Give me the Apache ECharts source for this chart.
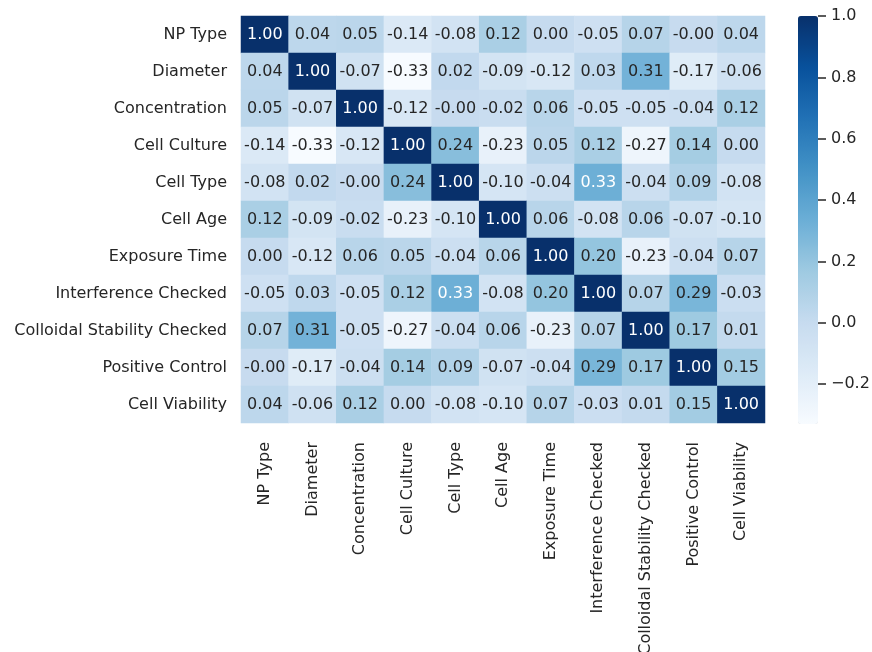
<!DOCTYPE html>
<html>
<head>
<meta charset="utf-8">
<script src="https://cdn.jsdelivr.net/npm/echarts@6/dist/echarts.min.js"></script>
<style>
html,body{margin:0;padding:0;background:#fff;}
#chart{width:872px;height:652px;}
</style>
</head>
<body>
<div id="chart"></div>
<script>
var categories = ['NP Type','Diameter','Concentration','Cell Culture','Cell Type','Cell Age','Exposure Time','Interference Checked','Colloidal Stability Checked','Positive Control','Cell Viability'];

var rowNPType        = [1.00, 0.04, 0.05, -0.14, -0.08, 0.12, 0.002, -0.05, 0.07, -0.002, 0.04];
var rowDiameter      = [0.04, 1.00, -0.07, -0.33, 0.02, -0.09, -0.12, 0.03, 0.31, -0.17, -0.06];
var rowConcentration = [0.05, -0.07, 1.00, -0.12, -0.002, -0.02, 0.06, -0.05, -0.05, -0.04, 0.12];
var rowCellCulture   = [-0.14, -0.33, -0.12, 1.00, 0.24, -0.23, 0.05, 0.12, -0.27, 0.14, 0.002];
var rowCellType      = [-0.08, 0.02, -0.002, 0.24, 1.00, -0.10, -0.04, 0.33, -0.04, 0.09, -0.08];
var rowCellAge       = [0.12, -0.09, -0.02, -0.23, -0.10, 1.00, 0.06, -0.08, 0.06, -0.07, -0.10];
var rowExposureTime  = [0.002, -0.12, 0.06, 0.05, -0.04, 0.06, 1.00, 0.20, -0.23, -0.04, 0.07];
var rowInterference  = [-0.05, 0.03, -0.05, 0.12, 0.33, -0.08, 0.20, 1.00, 0.07, 0.29, -0.03];
var rowColloidal     = [0.07, 0.31, -0.05, -0.27, -0.04, 0.06, -0.23, 0.07, 1.00, 0.17, 0.01];
var rowPositive      = [-0.002, -0.17, -0.04, 0.14, 0.09, -0.07, -0.04, 0.29, 0.17, 1.00, 0.15];
var rowViability     = [0.04, -0.06, 0.12, 0.002, -0.08, -0.10, 0.07, -0.03, 0.01, 0.15, 1.00];

var colorbarTicks = [-0.2, 0.0, 0.2, 0.4, 0.6, 0.8, 1.0];
var vMin = -0.33, vMax = 1.0;

var rows = [rowNPType,rowDiameter,rowConcentration,rowCellCulture,rowCellType,rowCellAge,rowExposureTime,rowInterference,rowColloidal,rowPositive,rowViability];

var blues = ['#f7fbff','#deebf7','#c6dbef','#9ecae1','#6baed6','#4292c6','#2171b5','#08519c','#08306b'];
var textColor = '#262626';
var font = 'DejaVu Sans';

var data = [];
rows.forEach(function(r, i){
  r.forEach(function(v, j){
    data.push({value:[j, i, v], label:{color: v > 0.32 ? '#ffffff' : textColor}});
  });
});

var chart = echarts.init(document.getElementById('chart'), null, {renderer:'canvas'});
chart.setOption({
  backgroundColor:'#ffffff',
  animation:false,
  textStyle:{fontFamily:font},
  grid:[
    {left:241, top:16, width:524, height:407, outerBoundsMode:'none', containLabel:false},
    {left:798, top:16, width:20, height:408, outerBoundsMode:'none', containLabel:false}
  ],
  xAxis:[
    {type:'category', data:categories, gridIndex:0, position:'bottom',
     axisLine:{show:false}, axisTick:{show:false}, splitLine:{show:false},
     axisLabel:{rotate:90, margin:19, fontSize:16, color:textColor, fontFamily:font, interval:0}},
    {type:'value', gridIndex:1, show:false, min:0, max:1}
  ],
  yAxis:[
    {type:'category', data:categories, gridIndex:0, inverse:true,
     axisLine:{show:false}, axisTick:{show:false}, splitLine:{show:false},
     axisLabel:{margin:14, fontSize:16, color:textColor, fontFamily:font, interval:0}},
    {type:'value', gridIndex:1, position:'right', min:vMin, max:vMax, z:10,
     axisLine:{show:false, onZero:false}, splitLine:{show:false},
     axisTick:{show:true, inside:false, customValues:colorbarTicks, length:8, lineStyle:{color:textColor, width:1.5}},
     axisLabel:{show:true, customValues:colorbarTicks, margin:13, fontSize:16, color:textColor, fontFamily:font,
       formatter:function(v){ var s = Math.abs(v).toFixed(1); return (v < -1e-9 ? '\u2212' : '') + s; }}}
  ],
  visualMap:{
    type:'continuous', min:vMin, max:vMax, seriesIndex:0, calculable:false, hoverLink:false,
    orient:'vertical', left:798, top:16, itemWidth:20, itemHeight:408, padding:0, z:1,
    text:null, showLabel:false,
    inRange:{color:blues}
  },
  series:[{
    type:'heatmap', xAxisIndex:0, yAxisIndex:0, data:data,
    itemStyle:{borderWidth:0},
    label:{show:true, fontSize:16, fontFamily:font,
      formatter:function(p){ return p.value[2].toFixed(2); }},
    emphasis:{disabled:true}
  }]
});
</script>
</body>
</html>
